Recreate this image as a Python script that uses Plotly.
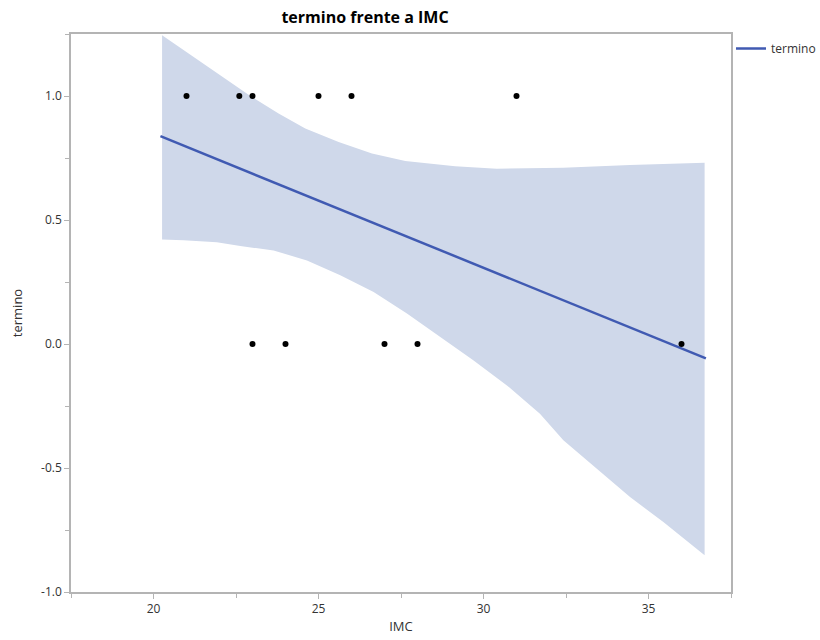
import plotly.graph_objects as go

# Observed points
imc_pts = [21, 22.6, 23, 25, 26, 31, 23, 24, 27, 28, 36]
termino_pts = [1, 1, 1, 1, 1, 1, 0, 0, 0, 0, 0]

# Fitted line
fit_x = [20.21, 36.74]
fit_y = [0.838, -0.058]

# Confidence band
band_ux = [20.26, 21.06, 22.07, 22.98, 23.79, 24.60, 25.61, 26.62, 27.63, 29.14,
           30.40, 32.41, 34.44, 36.70]
band_upper = [1.245, 1.171, 1.077, 0.996, 0.929, 0.869, 0.815, 0.768, 0.738, 0.717,
              0.707, 0.711, 0.722, 0.731]
band_lx = [20.26, 20.91, 21.92, 22.63, 23.64, 24.65, 25.66, 26.67, 27.68, 28.69,
           29.69, 30.71, 31.71, 32.42, 33.43, 34.44, 35.45, 36.70]
band_lower = [0.421, 0.418, 0.410, 0.395, 0.377, 0.337, 0.277, 0.210, 0.123, 0.028,
              -0.066, -0.167, -0.281, -0.388, -0.502, -0.617, -0.718, -0.852]

FONT = "Open Sans"
GRAY = "#b4b4b4"
TXT = "#333333"

fig = go.Figure()
fig.add_trace(go.Scatter(
    x=band_ux + band_lx[::-1], y=band_upper + band_lower[::-1],
    fill="toself", fillcolor="rgb(207,216,234)", line=dict(width=0),
    mode="lines", showlegend=False, hoverinfo="skip"))
fig.add_trace(go.Scatter(
    x=fit_x, y=fit_y, mode="lines", name="termino",
    line=dict(color="rgb(64,90,178)", width=2.5)))
fig.add_trace(go.Scatter(
    x=imc_pts, y=termino_pts, mode="markers", showlegend=False,
    marker=dict(color="black", size=6)))

axis_common = dict(
    showgrid=False, zeroline=False, showline=True, linecolor=GRAY, linewidth=1.5,
    mirror=True, ticks="outside", ticklen=5, tickcolor=GRAY, tickwidth=1,
    tickfont=dict(family=FONT, size=12, color=TXT), automargin=False,
)

fig.update_layout(
    width=820, height=640,
    paper_bgcolor="white", plot_bgcolor="white",
    margin=dict(l=71, r=89, t=34, b=48, autoexpand=False),
    title=dict(text="<b>termino frente a IMC</b>", x=(365 - 71) / 660, xref="paper",
               xanchor="center", y=1 - 17 / 640, yanchor="middle",
               font=dict(family=FONT, size=16, color="black")),
    xaxis=dict(range=[17.5, 37.5], tickvals=[20, 25, 30, 35],
               minor=dict(ticks="outside", ticklen=4, tickcolor=GRAY, dtick=2.5, tick0=17.5),
               title=dict(text="IMC", font=dict(family=FONT, size=13, color=TXT), standoff=6),
               **axis_common),
    yaxis=dict(range=[-1, 1.25], tickvals=[-1, -0.5, 0, 0.5, 1],
               ticktext=["-1.0", "-0.5", "0.0", "0.5", "1.0"],
               minor=dict(ticks="outside", ticklen=4, tickcolor=GRAY, dtick=0.25, tick0=-1),
               title=dict(text="termino", font=dict(family=FONT, size=13, color=TXT), standoff=16),
               **axis_common),
    legend=dict(x=1.0, xanchor="left", y=1.0, yanchor="top",
                font=dict(family=FONT, size=12, color=TXT),
                bgcolor="rgba(0,0,0,0)", itemwidth=30, tracegroupgap=0),
    showlegend=True,
)

fig.write_html(
    "out.html",
    config={"displayModeBar": False},
    post_script="document.body.style.margin='0';document.body.style.overflow='hidden';",
)
